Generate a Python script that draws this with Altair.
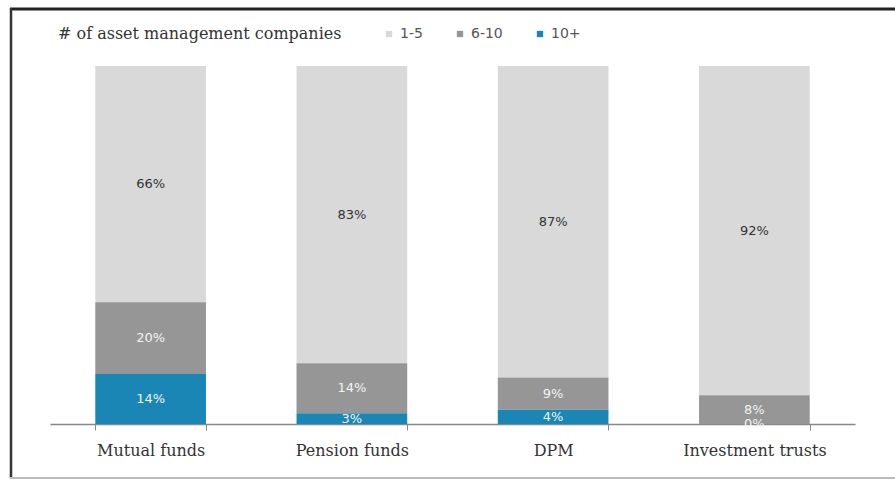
import altair as alt
import pandas as pd

categories = ["Mutual funds", "Pension funds", "DPM", "Investment trusts"]
groups = ["1-5", "6-10", "10+"]
share_1_5 = [66, 83, 87, 92]
share_6_10 = [20, 14, 9, 8]
share_10p = [14, 3, 4, 0]
colors = ["#d9d9d9", "#969696", "#1a86b5"]
label_colors = ["#333333", "#f2f2f2", "#f2f2f2"]

rows = []
for i, c in enumerate(categories):
    for g, vals, order in zip(groups, [share_1_5, share_6_10, share_10p], [3, 2, 1]):
        rows.append({"category": c, "group": g, "value": vals[i], "order": order,
                     "label": f"{vals[i]}%"})
df = pd.DataFrame(rows)

x_enc = alt.X("category:N", sort=categories, title=None,
              scale=alt.Scale(paddingInner=0.45, paddingOuter=0.225),
              axis=alt.Axis(labelAngle=0, labelFont="DejaVu Serif", labelFontSize=16,
                            labelColor="#333333", labelPadding=12, tickBand="extent",
                            tickSize=6, tickColor="#888888", domainColor="#888888",
                            domainWidth=1.5, grid=False))

base = alt.Chart(df).transform_stack(
    stack="value", groupby=["category"], as_=["y0", "y1"],
    sort=[alt.SortField("order", order="ascending")]
).transform_calculate(mid="(datum.y0 + datum.y1) / 2")

bars = base.mark_bar().encode(
    x=x_enc,
    y=alt.Y("y0:Q", scale=alt.Scale(domain=[0, 100], nice=False), axis=None),
    y2="y1:Q",
    color=alt.Color("group:N", sort=groups,
                    scale=alt.Scale(domain=groups, range=colors),
                    legend=alt.Legend(title="# of asset management companies",
                                      orient="none", legendX=8, legendY=-39,
                                      direction="horizontal", titleOrient="left",
                                      titleFont="DejaVu Serif", titleFontSize=16,
                                      titleFontWeight="normal", titleColor="#333333",
                                      titleLimit=500, titleBaseline="middle",
                                      titlePadding=40, labelFont="DejaVu Sans",
                                      labelFontSize=14, labelColor="#555555",
                                      symbolType="square", symbolSize=40,
                                      symbolStrokeWidth=0, columnPadding=30,
                                      labelOffset=4)),
)

texts = base.mark_text(font="DejaVu Sans", fontSize=13).encode(
    x=alt.X("category:N", sort=categories),
    y=alt.Y("mid:Q"),
    text="label:N",
    color=alt.Color("group:N", scale=alt.Scale(domain=groups, range=label_colors), legend=None),
)

frame_top = alt.Chart(pd.DataFrame({"a": [0]})).mark_rule(color="#222222", strokeWidth=3).encode(
    x=alt.value(-40), x2=alt.value(845), y=alt.value(-57))
frame_left = alt.Chart(pd.DataFrame({"a": [0]})).mark_rule(color="#333333", strokeWidth=2.5).encode(
    x=alt.value(-39), y=alt.value(-58), y2=alt.value(412))
frame_bottom = alt.Chart(pd.DataFrame({"a": [0]})).mark_rule(color="#bbbbbb", strokeWidth=2).encode(
    x=alt.value(-40), x2=alt.value(845), y=alt.value(412))

chart = alt.layer(bars, texts, frame_top, frame_left, frame_bottom).resolve_scale(
    color="independent"
).properties(
    width=805, height=358,
    padding={"left": 50, "top": 66, "right": 40, "bottom": 57},
    autosize=alt.AutoSizeParams(type="none"),
    background="white",
).configure_view(stroke=None)

chart.save("out.html", embed_options={"renderer": "svg", "actions": False})
